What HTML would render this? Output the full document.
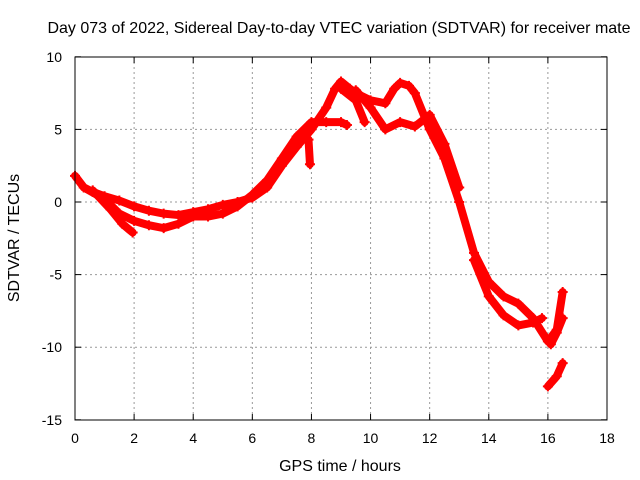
<!DOCTYPE html>
<html><head><meta charset="utf-8"><style>
body{margin:0;background:#fff}
svg{display:block;font-family:"Liberation Sans",sans-serif}
</style></head><body>
<svg id="c" width="640" height="480">
<text x="339" y="33" text-anchor="middle" font-size="16">Day 073 of 2022, Sidereal Day-to-day VTEC variation (SDTVAR) for receiver mate</text>
<text x="340" y="471" text-anchor="middle" font-size="16">GPS time / hours</text>
<text transform="translate(19,238) rotate(-90)" text-anchor="middle" font-size="16">SDTVAR / TECUs</text>
<g id="grid"></g><g id="marks"></g>
<rect x="75" y="57" width="532" height="363" fill="none" stroke="#000" stroke-width="1"/>
</svg>
<script>
const xTicks=[0,2,4,6,8,10,12,14,16,18];
const yTicks=[10,5,0,-5,-10,-15];
const traceTimes=[
[0,0.3,0.6,1,1.5,2,2.5,3,3.5,4,4.5,5,5.5,6,6.5,7,7.5,8,8.5,8.8,9,9.3,9.5,10,10.5,10.8,11,11.3,11.5,12,12.5,13,13.5,14,14.5,15,15.5,16,16.3,16.5],
[0.3,1,1.5,2,2.5,3,3.5,4,4.5,5,5.5,6,6.5,7,7.5,8,8.5,9,9.2],
[0.6,1.2,1.6,1.95],
[9.5,10,10.5,11,11.5,12,12.5,13],
[9,9.5,9.8],
[13.5,14,14.5,15,15.5,15.8],
[16,16.3,16.5],
[16.1,16.3,16.5],
[7.9,7.95]
];
const traceValues=[
[1.8,1.0,0.7,0.4,0.1,-0.3,-0.6,-0.8,-0.9,-0.7,-0.5,-0.2,0,0.3,1.0,2.5,3.8,5,6.5,7.8,8.3,7.8,7.5,7,6.8,7.8,8.2,8,7.5,5,3,0,-3.5,-5.5,-6.5,-7,-8,-9.6,-8.8,-6.2],
[1.0,0.2,-0.8,-1.3,-1.6,-1.8,-1.5,-1.0,-1.0,-0.8,-0.3,0.5,1.5,3,4.5,5.5,5.5,5.5,5.3],
[0.8,-0.5,-1.5,-2.1],
[7.7,6.5,5.0,5.5,5.2,6,4,1],
[7.8,7,5.5],
[-4,-6.5,-7.8,-8.5,-8.3,-8],
[-12.7,-12,-11.1],
[-9.8,-9,-8],
[4.3,2.6]
];
const X=t=>75+t*(532/18), Y=v=>202-v*(363/25);
const ns="http://www.w3.org/2000/svg";
const g=document.getElementById('grid'), m=document.getElementById('marks');
function el(tag,a,p){const e=document.createElementNS(ns,tag);for(const k in a)e.setAttribute(k,a[k]);p.appendChild(e);return e;}
xTicks.forEach(t=>{
  if(t>0&&t<18){const l=el('line',{x1:X(t),x2:X(t),y1:57,y2:420,stroke:'#999','stroke-dasharray':'2,3'},g);
  
  }
  const tk=el('line',{x1:X(t),x2:X(t),y1:420,y2:414,stroke:'#000'},g);
  
  
  const tk2=el('line',{x1:X(t),x2:X(t),y1:57,y2:63,stroke:'#000'},g);
  
  
  const tx=el('text',{x:X(t),y:443,'text-anchor':'middle','font-size':14},g);tx.textContent=t;
  
  
});
yTicks.forEach(v=>{
  if(v<10&&v>-15){const l=el('line',{x1:75,x2:607,y1:Y(v),y2:Y(v),stroke:'#999','stroke-dasharray':'2,3'},g);
  
  }
  const tk=el('line',{x1:75,x2:81,y1:Y(v),y2:Y(v),stroke:'#000'},g);
  
  
  const tk2=el('line',{x1:601,x2:607,y1:Y(v),y2:Y(v),stroke:'#000'},g);
  
  
  const tx=el('text',{x:62,y:Y(v)+5,'text-anchor':'end','font-size':14},g);tx.textContent=v;
  
  
});
traceTimes.forEach((ts,i)=>{
  const vs=traceValues[i];
  const pts=ts.map((t,j)=>X(t)+','+Y(vs[j])).join(' ');
  const pl=el('polyline',{points:pts,fill:'none',stroke:'#f00','stroke-width':8,'stroke-linejoin':'round','stroke-linecap':'round'},m);
  
  
  ts.forEach((t,j)=>{
    const x=X(t),y=Y(vs[j]);
    const p=el('path',{d:`M${x-5},${y}H${x+5}M${x},${y-5}V${y+5}`,stroke:'#f00','stroke-width':2},m);
    
    
  });
});
</script>
</body></html>
